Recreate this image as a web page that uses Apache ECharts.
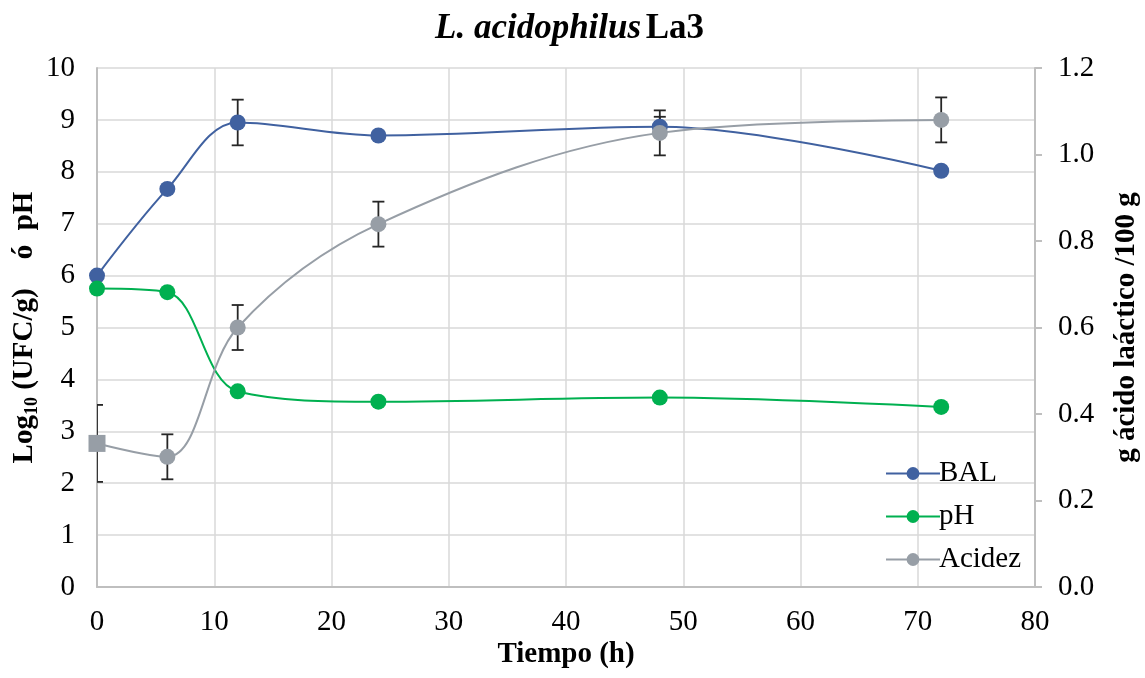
<!DOCTYPE html>
<html>
<head>
<meta charset="utf-8">
<script src="https://cdn.jsdelivr.net/npm/echarts@6/dist/echarts.min.js"></script>
<style>
  html, body { margin: 0; padding: 0; background: #ffffff; }
  #chart { width: 1145px; height: 678px; }
</style>
</head>
<body>
<div id="chart"></div>
<script>
// Sampling times (h)
const tiempo = [0, 6, 12, 24, 48, 72];
// Lactic acid bacteria count, log10 UFC/g
const bal = [6.0, 7.67, 8.95, 8.70, 8.87, 8.02];
const balErr = [0, 0, 0.44, 0, 0.19, 0];
// pH
const ph = [5.75, 5.68, 3.77, 3.57, 3.65, 3.47];
// Titratable acidity, g lactic acid / 100 g
const acidez = [0.332, 0.301, 0.600, 0.839, 1.050, 1.080];
const acidezErr = [0.089, 0.052, 0.052, 0.052, 0.052, 0.052];

const leftTicks = { min: 0, max: 10, interval: 1 };
const rightTicks = { min: 0, max: 1.2, interval: 0.2 };
const xTicks = { min: 0, max: 80, interval: 10 };

const serif = '"Liberation Serif", "Times New Roman", serif';
const gridColor = '#d9d9d9';
const axisColor = '#bfbfbf';
const fs = 29;

function errorBarSeries(name, yAxisIndex, values, errs) {
  const data = tiempo.map((t, i) => [t, values[i], errs[i]]).filter(d => d[2] > 0);
  return {
    name: name,
    type: 'custom',
    yAxisIndex: yAxisIndex,
    clip: true,
    z: 1,
    silent: true,
    encode: { x: 0, y: 1 },
    data: data,
    renderItem: function (params, api) {
      const x = api.value(0), y = api.value(1), e = api.value(2);
      const top = api.coord([x, y + e]);
      const bot = api.coord([x, y - e]);
      const hw = 6;
      const style = { stroke: '#262626', lineWidth: 1.8 };
      return {
        type: 'group',
        children: [
          { type: 'line', shape: { x1: top[0], y1: top[1], x2: bot[0], y2: bot[1] }, style: style },
          { type: 'line', shape: { x1: top[0] - hw, y1: top[1], x2: top[0] + hw, y2: top[1] }, style: style },
          { type: 'line', shape: { x1: bot[0] - hw, y1: bot[1], x2: bot[0] + hw, y2: bot[1] }, style: style }
        ]
      };
    }
  };
}

const chart = echarts.init(document.getElementById('chart'), null, { renderer: 'canvas' });

chart.setOption({
  backgroundColor: '#ffffff',
  animation: false,
  textStyle: { fontFamily: serif, color: '#000' },
  title: {
    text: '{i|L. acidophilus} {b|La3}',
    left: 430,
    top: 6,
    textStyle: {
      rich: {
        i: { fontFamily: serif, fontSize: 35, fontStyle: 'italic', fontWeight: 'bold', color: '#000' },
        b: { fontFamily: serif, fontSize: 35, fontWeight: 'bold', color: '#000' }
      }
    }
  },
  grid: { left: 97, right: 110, top: 68, bottom: 91, containLabel: false, outerBoundsMode: 'none' },
  legend: {
    orient: 'vertical',
    left: 880,
    top: 454,
    itemWidth: 54,
    itemHeight: 16,
    itemGap: 14,
    data: ['BAL', 'pH', 'Acidez'],
    textStyle: { fontFamily: serif, fontSize: fs, color: '#000', padding: [0, 0, 0, -6] }
  },
  xAxis: {
    type: 'value',
    min: xTicks.min, max: xTicks.max, interval: xTicks.interval,
    name: 'Tiempo (h)',
    nameLocation: 'middle',
    nameGap: 53,
    nameMoveOverlap: false,
    nameTextStyle: { fontFamily: serif, fontSize: fs, fontWeight: 'bold', color: '#000' },
    axisLine: { show: true, lineStyle: { color: axisColor, width: 2 } },
    axisTick: { show: false },
    axisLabel: { fontFamily: serif, fontSize: fs, color: '#000', margin: 21 },
    splitLine: { show: true, lineStyle: { color: gridColor, width: 1.5 } }
  },
  yAxis: [
    {
      type: 'value',
      position: 'left',
      min: leftTicks.min, max: leftTicks.max, interval: leftTicks.interval,
      name: '{b|Log}{s|10}{b| (UFC/g)    ó  pH}',
      nameLocation: 'middle',
      nameGap: 58,
      nameRotate: 90,
      nameMoveOverlap: false,
      nameTextStyle: {
        rich: {
          b: { fontFamily: serif, fontSize: fs, fontWeight: 'bold', color: '#000', verticalAlign: 'bottom' },
          s: { fontFamily: serif, fontSize: 18, fontWeight: 'bold', color: '#000', verticalAlign: 'bottom', padding: [0, 0, -2, 0] }
        }
      },
      axisLine: { show: true, lineStyle: { color: axisColor, width: 2 } },
      axisTick: { show: false },
      axisLabel: { fontFamily: serif, fontSize: fs, color: '#000', margin: 22 },
      splitLine: { show: true, lineStyle: { color: gridColor, width: 1.5 } }
    },
    {
      type: 'value',
      position: 'right',
      min: rightTicks.min, max: rightTicks.max, interval: rightTicks.interval,
      name: 'g ácido laáctico /100 g',
      nameLocation: 'middle',
      nameGap: 77,
      nameRotate: 90,
      nameMoveOverlap: false,
      nameTextStyle: { fontFamily: serif, fontSize: fs, fontWeight: 'bold', color: '#000' },
      axisLine: { show: true, lineStyle: { color: axisColor, width: 2 } },
      axisTick: { show: true, inside: false, length: 7, lineStyle: { color: axisColor, width: 2 } },
      axisLabel: { fontFamily: serif, fontSize: fs, color: '#000', margin: 23, formatter: v => v.toFixed(1) },
      splitLine: { show: false }
    }
  ],
  series: [
    errorBarSeries('BAL err', 0, bal, balErr),
    errorBarSeries('Acidez err', 1, acidez, acidezErr),
    {
      name: 'BAL',
      type: 'line',
      yAxisIndex: 0,
      smooth: 0.35,
      symbol: 'circle',
      symbolSize: 16,
      z: 3,
      data: tiempo.map((t, i) => [t, bal[i]]),
      itemStyle: { color: '#4061a0' },
      lineStyle: { color: '#4061a0', width: 2 }
    },
    {
      name: 'pH',
      type: 'line',
      yAxisIndex: 0,
      smooth: 0.35,
      symbol: 'circle',
      symbolSize: 16,
      z: 3,
      data: tiempo.map((t, i) => [t, ph[i]]),
      itemStyle: { color: '#00b050' },
      lineStyle: { color: '#00b050', width: 2 }
    },
    {
      name: 'Acidez',
      type: 'line',
      yAxisIndex: 1,
      smooth: 0.35,
      symbol: 'circle',
      symbolSize: 16,
      z: 4,
      data: tiempo.map((t, i) => i === 0
        ? { value: [t, acidez[i]], symbol: 'rect', symbolSize: 17 }
        : [t, acidez[i]]),
      itemStyle: { color: '#979ea6' },
      lineStyle: { color: '#979ea6', width: 2 }
    }
  ]
});
</script>
</body>
</html>
